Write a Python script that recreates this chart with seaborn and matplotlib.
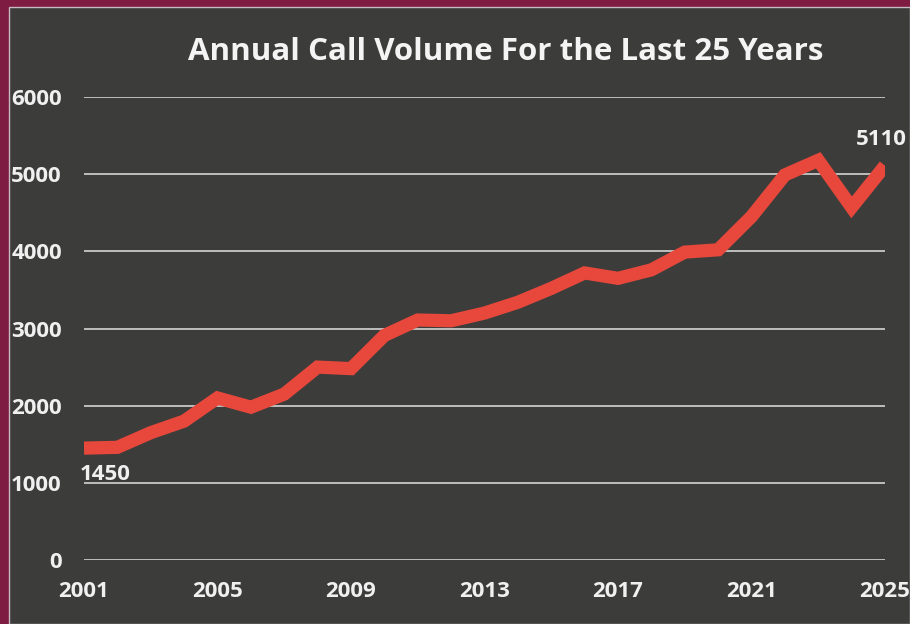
import matplotlib
matplotlib.use("Agg")
import matplotlib.pyplot as plt
import seaborn as sns
import pandas as pd
from matplotlib.patches import Rectangle

years = list(range(2001, 2026))
calls = [1450, 1460, 1650, 1800, 2100, 1980, 2150, 2500, 2480, 2910,
         3110, 3100, 3200, 3340, 3520, 3720, 3650, 3760, 3990, 4020,
         4450, 4990, 5180, 4570, 5110]
title = "Annual Call Volume For the Last 25 Years"
xticks = [2001, 2005, 2009, 2013, 2017, 2021, 2025]
yticks = [0, 1000, 2000, 3000, 4000, 5000, 6000]

df = pd.DataFrame({"Year": years, "Calls": calls})

sns.set_style("dark")
plt.rcParams['font.family'] = ['Open Sans', 'DejaVu Sans']

W, H = 910, 624
fig = plt.figure(figsize=(W / 100, H / 100), dpi=100)
fig.patch.set_facecolor("#7e1c42")

bg = fig.add_axes([0, 0, 1, 1], zorder=-5)
bg.set_axis_off()
bg.set_xlim(0, 1)
bg.set_ylim(0, 1)
bg.add_patch(Rectangle((9 / W, 0), 1 - 9 / W, 1 - 7 / H,
                       facecolor="#3c3c3b", edgecolor="#c9b9c0", linewidth=1))

ax = fig.add_axes([84 / W, 1 - 560 / H, (885 - 84) / W, (560 - 97) / H], zorder=1)
ax.set_facecolor("none")

sns.lineplot(data=df, x="Year", y="Calls", ax=ax, color="#e8483b",
             linewidth=9.5, solid_capstyle="butt", solid_joinstyle="miter", zorder=3)

ax.set_xlim(2001, 2025)
ax.set_ylim(0, 6000)
ax.set_xticks(xticks)
ax.set_yticks(yticks)
ax.set_xticklabels([str(t) for t in xticks])
ax.set_yticklabels([str(t) for t in yticks])
ax.tick_params(axis="x", length=0, pad=15, labelsize=16, labelcolor="#f0f0f0")
ax.tick_params(axis="y", length=0, pad=16, labelsize=16, labelcolor="#f0f0f0")
for lab in ax.get_xticklabels() + ax.get_yticklabels():
    lab.set_fontweight("bold")
ax.set_xlabel("")
ax.set_ylabel("")
ax.grid(axis="y", color="#c8c8c8", linewidth=1.3, zorder=1)
ax.grid(axis="x", visible=False)
for s in ax.spines.values():
    s.set_visible(False)

ax.annotate(str(calls[0]), xy=(years[0], calls[0]), xytext=(-3, -19),
            textcoords="offset points", ha="left", va="center",
            fontsize=16, fontweight="bold", color="#f0f0f0")
ax.annotate(str(calls[-1]), xy=(years[-1], calls[-1]), xytext=(-21, 19),
            textcoords="offset points", ha="left", va="center",
            fontsize=16, fontweight="bold", color="#f0f0f0",
            annotation_clip=False)

fig.text(506 / W, 1 - 52 / H, title, ha="center", va="center",
         fontsize=22.5, fontweight="bold", color="#f4f4f4")

fig.savefig("out.png", dpi=100, facecolor=fig.get_facecolor())
